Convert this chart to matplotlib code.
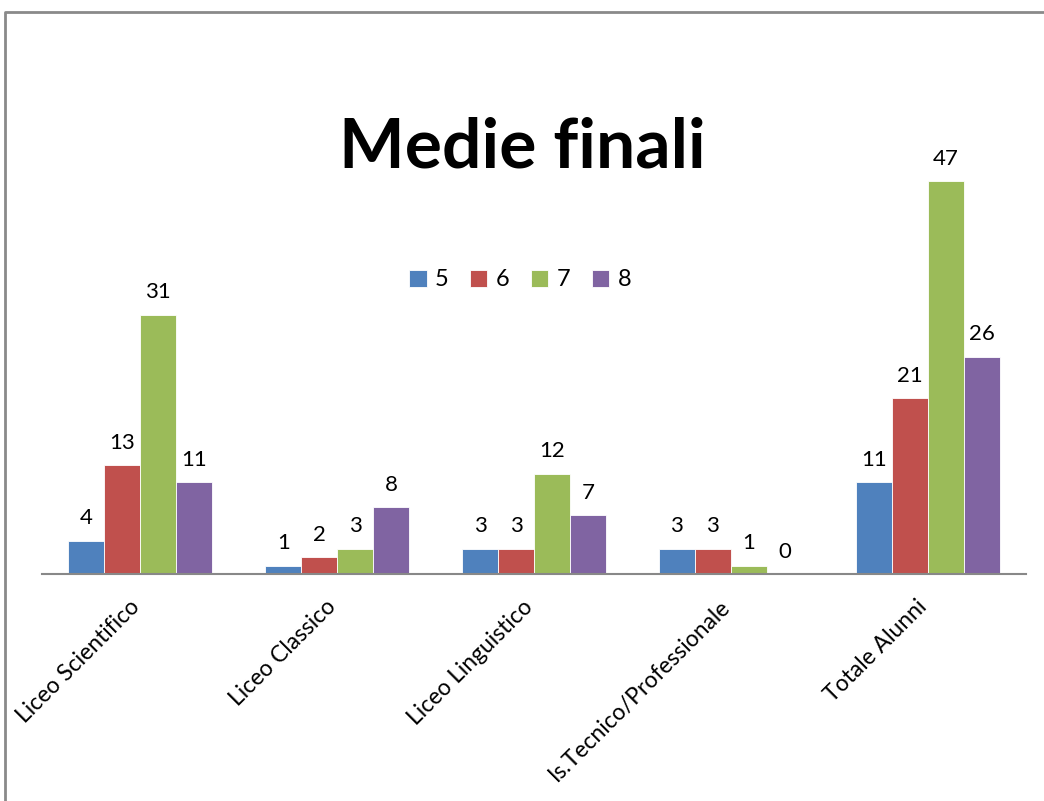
import numpy as np
import matplotlib
matplotlib.use("Agg")
import matplotlib.pyplot as plt
from matplotlib.lines import Line2D

plt.rcParams["font.family"] = ["Lato", "DejaVu Sans"]

categories = ["Liceo Scientifico", "Liceo Classico", "Liceo Linguistico",
              "Is.Tecnico/Professionale", "Totale Alunni"]
series_names = ["5", "6", "7", "8"]
vals_5 = [4, 1, 3, 3, 11]
vals_6 = [13, 2, 3, 3, 21]
vals_7 = [31, 3, 12, 1, 47]
vals_8 = [11, 8, 7, 0, 26]
colors = ["#4F81BD", "#C0504D", "#9BBB59", "#8064A2"]

fig = plt.figure(figsize=(10.44, 8.01), dpi=100)
ax = fig.add_axes([42 / 1044, 1 - 574 / 801, 984 / 1044, 418 / 801])

x = np.arange(len(categories))
bw = 0.1827
all_vals = [vals_5, vals_6, vals_7, vals_8]
for i, (name, vals, c) in enumerate(zip(series_names, all_vals, colors)):
    pos = x + (i - 1.5) * bw
    ax.bar(pos, vals, bw, color=c, edgecolor="white", linewidth=0.6, label=name, zorder=2)
    for p, v in zip(pos, vals):
        ax.annotate(str(v), (p, v), xytext=(0, 9), textcoords="offset points",
                    ha="center", va="bottom", fontsize=16)

ax.set_xlim(-0.5, 4.5)
ax.set_ylim(0, 50)
for s in ["top", "right", "left"]:
    ax.spines[s].set_visible(False)
ax.spines["bottom"].set_color("#888888")
ax.spines["bottom"].set_linewidth(1.5)
ax.spines["bottom"].set_zorder(3)
ax.set_yticks([])
ax.set_xticks(x - 0.06)
ax.set_xticklabels(categories, rotation=45, ha="right", va="top",
                   rotation_mode="anchor", fontsize=16.5)
ax.tick_params(axis="x", length=0, pad=16)

ax.legend(loc="center", bbox_to_anchor=(520 / 1044, 1 - 280 / 801),
          bbox_transform=fig.transFigure, ncol=4, frameon=False, fontsize=17,
          handlelength=0.75, handleheight=0.75, handletextpad=0.35, columnspacing=0.9)

fig.text(522 / 1044, 1 - 148 / 801, "Medie finali", ha="center", va="center",
         fontsize=50, fontweight="bold")

# outer frame (left and top edges)
fig.add_artist(Line2D([5 / 1044, 5 / 1044, 1.0], [0.0, 1 - 12 / 801, 1 - 12 / 801],
                      transform=fig.transFigure, color="#8a8a8a", linewidth=2))

fig.savefig("out.png", dpi=100)
